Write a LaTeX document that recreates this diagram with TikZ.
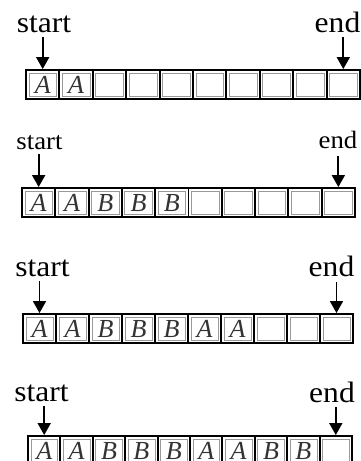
\documentclass[tikz,border=0pt]{standalone}
\usepackage{fontspec}
\setmainfont{Liberation Serif}
\newfontfamily\labfont[FakeStretch=1.07]{Liberation Serif}
\usetikzlibrary{arrows.meta}
\begin{document}
\begin{tikzpicture}[x=1pt,y=-1pt,
  cellbox/.style={draw, line width=1.9pt, minimum height=29pt, inner sep=0pt,
    path picture={\draw[line width=0.5pt, black!40]
      ([shift={(2.8pt,-2.8pt)}]path picture bounding box.north west) rectangle
      ([shift={(-2.8pt,2.8pt)}]path picture bounding box.south east);}},
  letter/.style={inner sep=0pt, font=\fontsize{26}{26}\selectfont\itshape, text=black!80},
  biglab/.style={anchor=base, inner sep=0pt, font=\labfont\fontsize{29.5}{30}\selectfont},
  smalllab/.style={anchor=base, inner sep=0pt, font=\labfont\fontsize{25}{26}\selectfont},
  arr/.style={line width=1.8pt, -{Triangle[width=13pt,length=12pt]}}]
\useasboundingbox (0,0) rectangle (361,461);
\clip (0,0) rectangle (361,461);
\fill[white] (0,0) rectangle (361,461);
% cells
\foreach \r/\xo/\w/\yt/\lst in {1/26/33.4/70/{A,A},
                                 2/22/33.3/188/{A,A,B,B,B},
                                 3/23/33.0/314/{A,A,B,B,B,A,A},
                                 4/28/32.4/436/{A,A,B,B,B,A,A,B,B}} {
  \foreach \c in {1,...,10} {
    \node[cellbox, minimum width=\w pt] (r\r-\c) at ({\xo+(\c-0.5)*\w}, {\yt+14.5}) {};
  }
  \foreach \t [count=\c] in \lst {
    \node[letter] (t\r-\c) at ([yshift=-0.5pt]r\r-\c.center) {\t};
  }
}
% labels
\node[biglab]   (s1) at (44,32)    {start};
\node[biglab]   (e1) at (337.5,32) {end};
\node[smalllab] (s2) at (39.5,149) {start};
\node[smalllab] (e2) at (338,148)  {end};
\node[biglab]   (s3) at (42.5,276) {start};
\node[biglab]   (e3) at (331.5,276){end};
\node[biglab]   (s4) at (41.5,401) {start};
\node[biglab]   (e4) at (332,402)  {end};
% arrows
\draw[arr] ([yshift=32pt]r1-1.north)  -- (r1-1.north);
\draw[arr] ([yshift=32pt]r1-10.north) -- (r1-10.north);
\draw[arr] ([yshift=33pt]r2-1.north)  -- (r2-1.north);
\draw[arr] ([yshift=31pt]r2-10.north) -- (r2-10.north);
\draw[arr] ([yshift=32pt]r3-1.north)  -- (r3-1.north);
\draw[arr] ([yshift=31pt]r3-10.north) -- (r3-10.north);
\draw[arr] ([yshift=29pt]r4-1.north)  -- (r4-1.north);
\draw[arr] ([yshift=28pt]r4-10.north) -- (r4-10.north);
\end{tikzpicture}
\end{document}
